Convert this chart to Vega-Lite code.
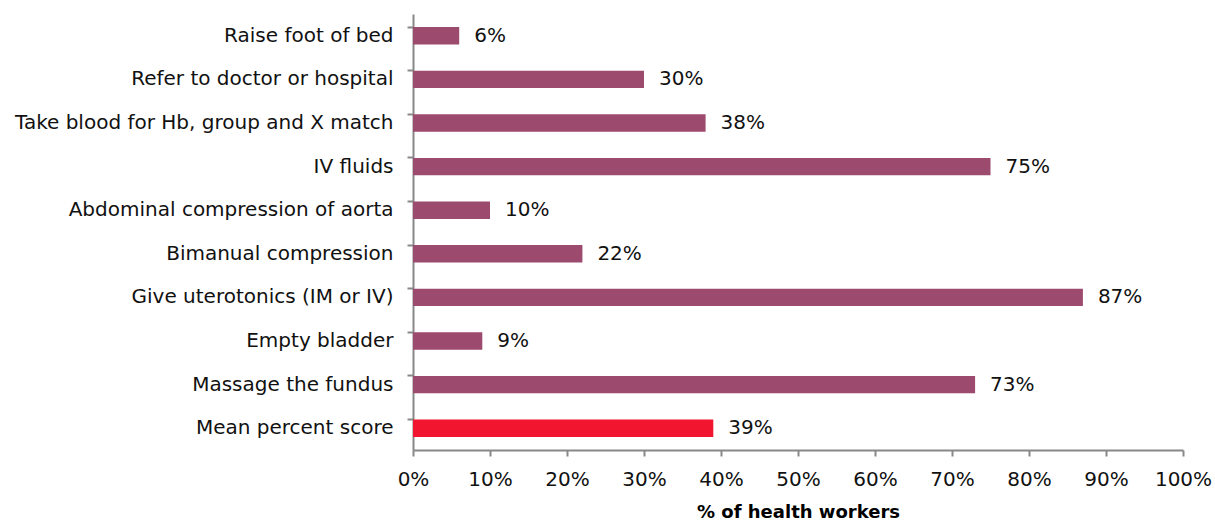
{
  "$schema": "https://vega.github.io/schema/vega-lite/v6.json",
  "autosize": {"type": "none"},
  "padding": {"left": 413, "top": 14, "right": 32, "bottom": 73},
  "width": 770,
  "height": 436,
  "background": "white",
  "config": {"view": {"stroke": null}, "font": "DejaVu Sans"},
  "data": {"values": [
    {"item": "Raise foot of bed", "pct": 6, "kind": "item"},
    {"item": "Refer to doctor or hospital", "pct": 30, "kind": "item"},
    {"item": "Take blood for Hb, group and X match", "pct": 38, "kind": "item"},
    {"item": "IV fluids", "pct": 75, "kind": "item"},
    {"item": "Abdominal compression of aorta", "pct": 10, "kind": "item"},
    {"item": "Bimanual compression", "pct": 22, "kind": "item"},
    {"item": "Give uterotonics (IM or IV)", "pct": 87, "kind": "item"},
    {"item": "Empty bladder", "pct": 9, "kind": "item"},
    {"item": "Massage the fundus", "pct": 73, "kind": "item"},
    {"item": "Mean percent score", "pct": 39, "kind": "mean"}
  ]},
  "encoding": {
    "y": {"field": "item", "type": "nominal", "sort": null,
      "scale": {"paddingInner": 0.6, "paddingOuter": 0.3},
      "axis": {"title": null, "bandPosition": 0, "tickSize": 6, "tickColor": "#888888", "domainColor": "#888888", "domainWidth": 2, "tickWidth": 2, "labelFontSize": 20, "labelColor": "#111111", "labelPadding": 14, "labelLimit": 420}},
    "x": {"field": "pct", "type": "quantitative",
      "scale": {"domain": [0, 100], "nice": false},
      "axis": {"title": "% of health workers", "titleFontSize": 18, "titleFontWeight": "bold", "titleColor": "#000000", "titlePadding": 14, "titleAnchor": "middle", "values": [0,10,20,30,40,50,60,70,80,90,100], "labelExpr": "datum.value + '%'", "grid": false, "tickSize": 6, "tickColor": "#888888", "tickWidth": 2, "domainColor": "#888888", "domainWidth": 2, "labelFontSize": 20, "labelColor": "#111111", "labelPadding": 13, "labelFlush": false}}
  },
  "layer": [
    {"mark": {"type": "bar"},
     "encoding": {"color": {"field": "kind", "type": "nominal", "scale": {"domain": ["item", "mean"], "range": ["#9C4A6E", "#F2152F"]}, "legend": null}}},
    {"mark": {"type": "text", "align": "left", "dx": 15, "fontSize": 20, "color": "#111111", "text": {"expr": "datum.pct + '%'"}}}
  ]
}
